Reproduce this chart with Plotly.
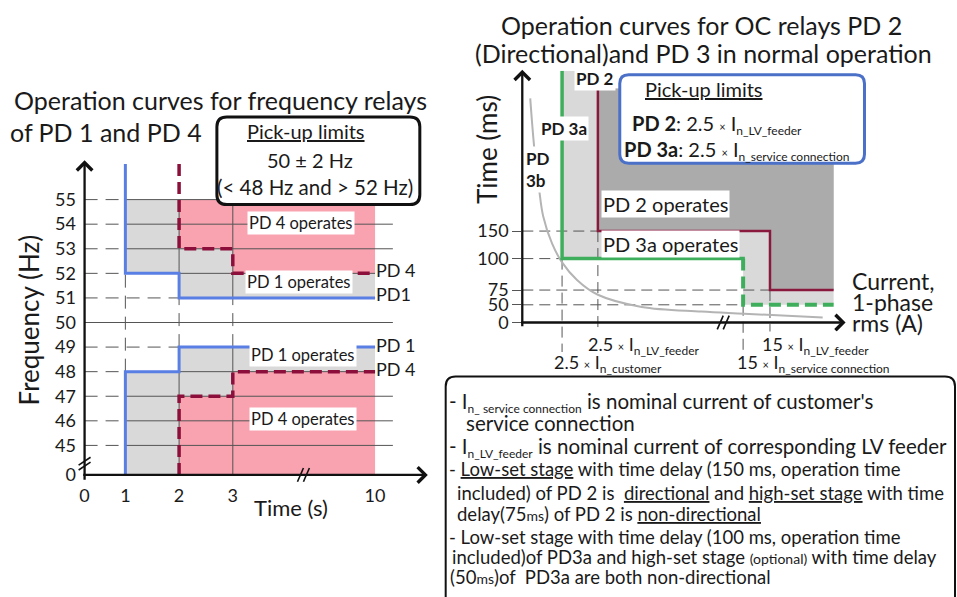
import numpy as np
import plotly.graph_objects as go

W, H = 957, 597
FONT = "Lato"
TXT = "#1a1a1a"

# ================= Left chart data: frequency relays PD 1 / PD 4 =================
TIME_TICKS_S = [0, 1, 2, 3, 10]
TIME_TICK_TEXT = ["0", "1", "2", "3", "10"]
FREQ_TICKS_HZ = [0, 45, 46, 47, 48, 49, 50, 51, 52, 53, 54, 55]
FREQ_TICK_TEXT = ["0", "45", "46", "47", "48", "49", "50", "51", "52", "53", "54", "55"]

PD1_TIMES_S = [1, 2, 10]
PD1_OVER_HZ = [52, 51]
PD1_UNDER_HZ = [48, 49]
PD4_TIMES_S = [2, 3, 10]
PD4_OVER_HZ = [53, 52]
PD4_UNDER_HZ = [47, 48]
NOMINAL_HZ = 50
FILL_TOP_HZ = 55

# ================= Right chart data: OC relays PD 2 / PD 3 =================
TIME_TICKS_MS = [0, 50, 75, 100, 150]
TIME_TICK_TEXT_MS = ["0", "50", "75", "100", "150"]
# current levels: 2.5*In_customer, 2.5*In_LV_feeder, 15*In_service, 15*In_LV_feeder, end of plot
CURRENT_LEVELS = ["2.5 In_customer", "2.5 In_LV_feeder", "15 In_service", "15 In_LV_feeder", "end"]
PD3A_PICKUP_IDX = [0, 2]
PD3A_DELAY_MS = [100, 50]
PD2_PICKUP_IDX = [1, 3]
PD2_DELAY_MS = [150, 75]
# PD 3b inverse-time fuse curve
PD3B_CURRENT = [8, 12, 17, 21, 30, 40, 55, 76, 120, 180, 223, 302]
PD3B_TIME_MS = [391, 302, 225, 177, 127, 97, 83, 67, 44, 31, 25, 14]

# ---------------- schematic (broken) axis scales -- layout ----------------
T_AXIS_POS = [0.2407, 1, 2, 3, 5.648]          # broken time axis
F_ZERO_POS = 43.8                                # broken frequency axis (0 Hz)
CURVE_TOP_F = 56.45
GRID_END_T = 5.98
CUR_POS = [40, 76, 222, 249, 313]                # schematic current axis
MS_POS = [0, 18, 33, 65, 93]                     # schematic time axis
PD3A_TOP, PD2_TOP = 256, 238


def tx(t):
    return float(np.interp(t, TIME_TICKS_S, T_AXIS_POS))


def fy(f):
    return float(f) if f >= 45 else float(np.interp(f, [0, 45], [F_ZERO_POS, 45]))


def my(ms):
    if ms <= TIME_TICKS_MS[-1]:
        return float(np.interp(ms, TIME_TICKS_MS, MS_POS))
    slope = (MS_POS[-1] - MS_POS[-2]) / (TIME_TICKS_MS[-1] - TIME_TICKS_MS[-2])
    return MS_POS[-1] + (ms - TIME_TICKS_MS[-1]) * slope


def steps(times, vals):
    xs, ys = [], []
    for i, v in enumerate(vals):
        xs += [times[i], times[i + 1]]
        ys += [v, v]
    return xs, ys


def val_at(times, vals, t):
    for i in range(len(vals)):
        if times[i] <= t < times[i + 1]:
            return vals[i]
    return vals[-1]


GRAY = "rgb(217,217,217)"
PINK = "rgb(249,162,176)"
DGRAY = "rgb(171,171,171)"
BLUE = "#5a7fe4"
MAROON = "#8c0f3b"
MAROON2 = "#8a1a3d"
GREEN = "#3fae5c"
GRID = "#555555"

fig = go.Figure()


def add_poly(xs, ys, color, xa="x", ya="y"):
    fig.add_trace(go.Scatter(x=xs, y=ys, mode="lines", fill="toself", fillcolor=color,
                             line=dict(width=0, color=color), hoverinfo="skip",
                             showlegend=False, xaxis=xa, yaxis=ya))


def add_line(xs, ys, color, width, dash="solid", xa="x", ya="y", shape="linear"):
    fig.add_trace(go.Scatter(x=xs, y=ys, mode="lines", line=dict(color=color, width=width, dash=dash, shape=shape),
                             hoverinfo="skip", showlegend=False, xaxis=xa, yaxis=ya, cliponaxis=False))


# ---------------- left fills ----------------
sx, sy = steps(PD1_TIMES_S, PD1_OVER_HZ)
add_poly([tx(t) for t in [PD1_TIMES_S[0]] + sx + [PD1_TIMES_S[-1]]],
         [fy(f) for f in [FILL_TOP_HZ] + sy + [FILL_TOP_HZ]], GRAY)
sx, sy = steps(PD1_TIMES_S, PD1_UNDER_HZ)
add_poly([tx(t) for t in [PD1_TIMES_S[0]] + sx + [PD1_TIMES_S[-1]]],
         [fy(f) for f in [0] + sy + [0]], GRAY)
sx, sy = steps(PD4_TIMES_S, PD4_OVER_HZ)
add_poly([tx(t) for t in [PD4_TIMES_S[0]] + sx + [PD4_TIMES_S[-1]]],
         [fy(f) for f in [FILL_TOP_HZ] + sy + [FILL_TOP_HZ]], PINK)
sx, sy = steps(PD4_TIMES_S, PD4_UNDER_HZ)
add_poly([tx(t) for t in [PD4_TIMES_S[0]] + sx + [PD4_TIMES_S[-1]]],
         [fy(f) for f in [0] + sy + [0]], PINK)

# ---------------- left gridlines ----------------
curve_end_rows = {PD1_OVER_HZ[-1], PD1_UNDER_HZ[-1], PD4_OVER_HZ[-1], PD4_UNDER_HZ[-1]}
dx, dy, lx, ly = [], [], [], []
for f in FREQ_TICKS_HZ[1:]:
    end = tx(TIME_TICKS_S[-1]) if f in curve_end_rows else GRID_END_T
    if f == NOMINAL_HZ:
        lx += [tx(0), end, None]; ly += [f, f, None]
        continue
    start = None
    if f > NOMINAL_HZ:
        for i, v in enumerate(PD1_OVER_HZ):
            if v <= f:
                start = PD1_TIMES_S[i]; break
    else:
        for i, v in enumerate(PD1_UNDER_HZ):
            if v >= f:
                start = PD1_TIMES_S[i]; break
    dx += [tx(0), tx(start), None]; dy += [f, f, None]
    lx += [tx(start), end, None]; ly += [f, f, None]
for t in TIME_TICKS_S[1:4]:
    lo = val_at(PD1_TIMES_S, PD1_UNDER_HZ, t)
    hi = val_at(PD1_TIMES_S, PD1_OVER_HZ, t)
    lx += [tx(t), tx(t), None, tx(t), tx(t), None]
    ly += [fy(0), fy(lo), None, fy(hi), fy(FILL_TOP_HZ), None]
    dx += [tx(t), tx(t), None]; dy += [fy(lo), fy(hi), None]
add_line(dx, dy, GRID, 1, dash="13px,8px")
add_line(lx, ly, GRID, 1)

# ---------------- left relay curves ----------------
sx, sy = steps(PD1_TIMES_S, PD1_OVER_HZ)
add_line([tx(t) for t in [PD1_TIMES_S[0]] + sx], [CURVE_TOP_F] + [fy(f) for f in sy], BLUE, 3)
sx, sy = steps(PD1_TIMES_S, PD1_UNDER_HZ)
add_line([tx(t) for t in [PD1_TIMES_S[0]] + sx], [fy(f) for f in [0] + sy], BLUE, 3)
sx, sy = steps(PD4_TIMES_S, PD4_OVER_HZ)
add_line([tx(t) for t in [PD4_TIMES_S[0]] + sx], [CURVE_TOP_F] + [fy(f) for f in sy], MAROON, 3.5, dash="12px,6px")
sx, sy = steps(PD4_TIMES_S, PD4_UNDER_HZ)
add_line([tx(t) for t in [PD4_TIMES_S[0]] + sx], [fy(f) for f in [0] + sy], MAROON, 3.5, dash="12px,6px")

# ---------------- right fills ----------------
a0, a1 = CUR_POS[PD3A_PICKUP_IDX[0]], CUR_POS[PD3A_PICKUP_IDX[1]]
b0, b1 = CUR_POS[PD2_PICKUP_IDX[0]], CUR_POS[PD2_PICKUP_IDX[1]]
iend = CUR_POS[-1]
add_poly([a0, b0, b0, iend, iend, a1, a1, a0],
         [PD3A_TOP, PD3A_TOP, PD2_TOP, PD2_TOP, my(PD3A_DELAY_MS[1]), my(PD3A_DELAY_MS[1]),
          my(PD3A_DELAY_MS[0]), my(PD3A_DELAY_MS[0])], GRAY, "x2", "y2")
add_poly([b0, b0, b1, b1, iend, iend],
         [PD2_TOP, my(PD2_DELAY_MS[0]), my(PD2_DELAY_MS[0]), my(PD2_DELAY_MS[1]), my(PD2_DELAY_MS[1]), PD2_TOP],
         DGRAY, "x2", "y2")

# ---------------- right dashed guides ----------------
gx, gy = [], []
for pos, ms in [(b0, PD2_DELAY_MS[0]), (a0, PD3A_DELAY_MS[0]), (b1, PD2_DELAY_MS[1]), (a1, PD3A_DELAY_MS[1])]:
    gx += [0, pos, None]; gy += [my(ms), my(ms), None]
for pos, ms, low in [(a0, PD3A_DELAY_MS[0], -30), (b0, PD2_DELAY_MS[0], -10),
                     (a1, PD3A_DELAY_MS[1], -30), (b1, PD2_DELAY_MS[1], -10)]:
    gx += [pos, pos, None]; gy += [my(ms), low, None]
add_line(gx, gy, GRID, 1, dash="11px,6px", xa="x2", ya="y2")

# PD 3b curve
add_line(PD3B_CURRENT, [my(v) for v in PD3B_TIME_MS], "#b4b4b4", 2, xa="x2", ya="y2", shape="spline")

# PD 3a (green) and PD 2 (maroon)
add_line([a0, a0, a1, a1], [PD3A_TOP, my(PD3A_DELAY_MS[0]), my(PD3A_DELAY_MS[0]), my(PD3A_DELAY_MS[0]) - 1.5],
         GREEN, 3.5, xa="x2", ya="y2")
add_line([a1, a1, iend], [my(PD3A_DELAY_MS[0]), my(PD3A_DELAY_MS[1]), my(PD3A_DELAY_MS[1])],
         GREEN, 4, dash="12px,6px", xa="x2", ya="y2")
add_line([b0, b0, b1, b1, iend],
         [PD2_TOP, my(PD2_DELAY_MS[0]), my(PD2_DELAY_MS[0]), my(PD2_DELAY_MS[1]), my(PD2_DELAY_MS[1])],
         MAROON2, 2.5, xa="x2", ya="y2")

# ---------------- axes ----------------
tickfont = dict(family=FONT, size=18, color=TXT)
fig.update_layout(
    width=W, height=H, margin=dict(l=0, r=0, t=0, b=0),
    paper_bgcolor="white", plot_bgcolor="rgba(0,0,0,0)", showlegend=False,
    xaxis=dict(domain=[80 / W, 423 / W], range=[0.2407, 6.5926], showgrid=False, zeroline=False,
               showline=False, tickvals=[tx(t) for t in TIME_TICKS_S], ticktext=TIME_TICK_TEXT,
               ticks="outside", ticklen=4, tickcolor="rgba(0,0,0,0)", tickfont=tickfont, fixedrange=True),
    yaxis=dict(domain=[1 - 483 / H, 1 - 165 / H], range=[43.8, 56.52], showgrid=False, zeroline=False,
               showline=False, tickvals=[fy(f) for f in FREQ_TICKS_HZ], ticktext=FREQ_TICK_TEXT,
               ticks="outside", ticklen=4, tickcolor="rgba(0,0,0,0)", tickfont=tickfont, fixedrange=True),
    xaxis2=dict(domain=[520 / W, 843 / W], range=[0, 323], showgrid=False, zeroline=False, showline=False,
                showticklabels=False, ticks="", anchor="y2", fixedrange=True),
    yaxis2=dict(domain=[1 - 380 / H, 1 - 72 / H], range=[-52, 256], showgrid=False, zeroline=False,
                showline=False, tickvals=[my(v) for v in TIME_TICKS_MS], ticktext=TIME_TICK_TEXT_MS,
                ticks="outside", ticklen=9, tickcolor=GRID, tickfont=tickfont, anchor="x2", fixedrange=True),
)

anns = []
shapes = []


def P(px, py):
    return px / W, 1 - py / H


def ann(text, px, py, size=18, xanchor="center", bg=None, angle=0, color=TXT, align="left", top=False):
    # top=True: anchor the top of the first line so that subscripts do not shift the text up
    if top:
        x, y = P(px, py - (0.66 * size + 1))
        yanchor = "top"
    else:
        x, y = P(px, py)
        yanchor = "middle"
    d = dict(text=text, x=x, y=y, xref="paper", yref="paper", showarrow=False, xanchor=xanchor,
             yanchor=yanchor, font=dict(family=FONT, size=size, color=color), align=align,
             textangle=angle, borderpad=1)
    if bg:
        d["bgcolor"] = bg
    anns.append(d)


def arrow(x0, y0, x1, y1):
    x, y = P(x1, y1)
    anns.append(dict(text="", x=x, y=y, xref="paper", yref="paper", ax=x0 - x1, ay=y0 - y1,
                     showarrow=True, arrowhead=4, arrowsize=1.3, arrowwidth=2.3, arrowcolor="#111"))


def rrect(x0, y0, x1, y1, r, color, width):
    def X(v):
        return v / W

    def Y(v):
        return 1 - v / H
    p = (f"M {X(x0 + r)},{Y(y0)} L {X(x1 - r)},{Y(y0)} Q {X(x1)},{Y(y0)} {X(x1)},{Y(y0 + r)} "
         f"L {X(x1)},{Y(y1 - r)} Q {X(x1)},{Y(y1)} {X(x1 - r)},{Y(y1)} L {X(x0 + r)},{Y(y1)} "
         f"Q {X(x0)},{Y(y1)} {X(x0)},{Y(y1 - r)} L {X(x0)},{Y(y0 + r)} Q {X(x0)},{Y(y0)} {X(x0 + r)},{Y(y0)} Z")
    shapes.append(dict(type="path", path=p, xref="paper", yref="paper", fillcolor="white",
                       line=dict(color=color, width=width), layer="above"))


def seg(x0, y0, x1, y1, color="#111", width=1.6):
    a, b = P(x0, y0)
    c, d = P(x1, y1)
    shapes.append(dict(type="line", x0=a, y0=b, x1=c, y1=d, xref="paper", yref="paper",
                       line=dict(color=color, width=width), layer="above"))


def sub(s, size):
    return f"<sub><span style='font-size:{size}px'>{s}</span></sub>"


XS = "<span style='font-size:11px'>×</span>"

# axis arrows
arrow(80, 484, 80, 163)
arrow(79, 483, 425, 483)
arrow(520, 329, 520, 71)
arrow(519, 328, 845, 328)

# axis breaks
seg(74, 473, 86, 465); seg(74, 478, 86, 470)
seg(294, 490, 300, 476); seg(300, 490, 306, 476)
seg(716, 335, 722, 321); seg(722, 335, 728, 321)

# ---------------- left texts ----------------
ann("Operation curves for frequency relays", 217, 102, size=25)
ann("of PD 1 and PD 4", 3, 134, size=25, xanchor="left")
ann("Frequency (Hz)", 24, 325, size=26, angle=-90)
ann("Time (s)", 288, 516, size=22)

rrect(213, 119, 417, 208, 10, "#111", 3)
ann("<span style='text-decoration:underline'>Pick-up limits</span>", 303, 133, size=20)
ann("50 ± 2 Hz", 307, 163, size=20)
ann("(&lt; 48 Hz and &gt; 52 Hz)", 312, 190, size=20.5)

ann("PD 4 operates", 298, 227, size=16.5, bg="white")
ann("PD 1 operates", 296, 287, size=16.5, bg="white")
ann("PD 1 operates", 300, 361, size=16.5, bg="white")
ann("PD 4 operates", 300, 426, size=16.5, bg="white")
ann("PD 4", 371, 275, size=18, xanchor="left")
ann("PD1", 371, 299, size=18, xanchor="left")
ann("PD 1", 371, 351, size=18, xanchor="left")
ann("PD 4", 371, 375, size=18, xanchor="left")

# ---------------- right texts ----------------
ann("Operation curves for OC relays PD 2", 700, 25, size=25)
ann("(Directional)and PD 3 in normal operation", 702, 54, size=25)
ann("Time (ms)", 485, 152, size=26, angle=-90)
ann("<b>PD 2</b>", 593, 80, size=17, bg="white")
ann("<b>PD 3a</b>", 562, 131, size=17, bg="white")
ann("<b>PD<br>3b</b>", 522, 172, size=17, xanchor="left", bg="white")

rrect(618, 76, 864, 166, 9, "#4a70c8", 3)
ann("<span style='text-decoration:underline'>Pick-up limits</span>", 703, 91, size=20)
ann(f"<b>PD 2</b>: 2.5 {XS} I" + sub("n_LV_feeder", 12), 628, 125, size=20, xanchor="left", top=True)
ann(f"<b>PD 3a</b>: 2.5 {XS} I" + sub("n_service connection", 12), 620, 152, size=20, xanchor="left", top=True)

ann("PD 2 operates", 599, 207, size=20, xanchor="left", bg="white")
ann("PD 3a operates", 599, 248, size=20, xanchor="left", bg="white")
ann("Current,", 849, 286, size=23, xanchor="left")
ann("1-phase", 849, 307, size=23, xanchor="left")
ann("rms (A)", 849, 328, size=23, xanchor="left")

ann(f"2.5 {XS} I" + sub("n_LV_feeder", 12), 584, 350, size=18, xanchor="left", bg="white", top=True)
ann(f"2.5 {XS} I" + sub("n_customer", 12), 550, 368, size=18, xanchor="left", top=True)
ann(f"15 {XS} I" + sub("n_LV_feeder", 12), 759, 350, size=18, xanchor="left", bg="white", top=True)
ann(f"15 {XS} I" + sub("n_service connection", 12), 734, 368, size=18, xanchor="left", top=True)

# ---------------- notes box ----------------
rrect(443, 383, 955, 640, 10, "#111", 2)
U = "<span style='text-decoration:underline'>{}</span>"
S = "<span style='font-size:14px'>{}</span>"
notes = [
    ("- I" + sub("n_ service connection", 12) + " is nominal current of customer's", 444, 408, 20.5),
    ("service connection", 461, 431, 20.5),
    ("- I" + sub("n_LV_feeder", 12) + " is nominal current of corresponding LV feeder", 444, 454, 20.5),
    ("- " + U.format("Low-set stage") + " with time delay (150 ms, operation time", 444, 477, 18.5),
    ("included) of PD 2 is  " + U.format("directional") + " and " + U.format("high-set stage") + " with time",
     452, 501, 18.5),
    ("delay(75" + S.format("ms") + ") of PD 2 is " + U.format("non-directional"), 452, 523, 18.5),
    ("- Low-set stage with time delay (100 ms, operation time", 444, 546, 18.5),
    ("included)of PD3a and high-set stage " + S.format("(optional)") + " with time delay", 447, 566, 18.5),
    ("(50" + S.format("ms") + ")of  PD3a are both non-directional", 445, 587, 18.5),
]
for txt, px, py, fs in notes:
    ann(txt, px, py, size=fs, xanchor="left", top=True)

fig.update_layout(annotations=anns, shapes=shapes)
fig.write_html("out.html")
